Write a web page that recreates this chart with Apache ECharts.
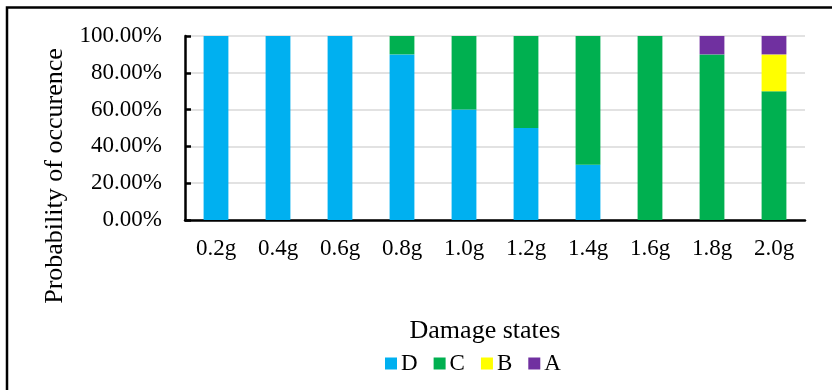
<!DOCTYPE html>
<html>
<head>
<meta charset="utf-8">
<script src="https://cdn.jsdelivr.net/npm/echarts@6/dist/echarts.min.js"></script>
<style>
  html, body { margin: 0; padding: 0; background: #fff; }
  #chart { width: 832px; height: 390px; }
</style>
</head>
<body>
<div id="chart"></div>
<script>
// Peak ground acceleration levels
const categories = ['0.2g', '0.4g', '0.6g', '0.8g', '1.0g', '1.2g', '1.4g', '1.6g', '1.8g', '2.0g'];
// Probability of each damage state (fraction of 1)
const stateD = [1.0, 1.0, 1.0, 0.9, 0.6, 0.5, 0.3, 0.0, 0.0, 0.0];
const stateC = [0.0, 0.0, 0.0, 0.1, 0.4, 0.5, 0.7, 1.0, 0.9, 0.7];
const stateB = [0.0, 0.0, 0.0, 0.0, 0.0, 0.0, 0.0, 0.0, 0.0, 0.2];
const stateA = [0.0, 0.0, 0.0, 0.0, 0.0, 0.0, 0.0, 0.0, 0.1, 0.1];
const seriesNames = ['D', 'C', 'B', 'A'];
const seriesColors = ['#00B0F0', '#00B050', '#FFFF00', '#7030A0'];

const FONT = "'Liberation Serif', 'Times New Roman', serif";
const chart = echarts.init(document.getElementById('chart'), null, { renderer: 'canvas' });

const dataSets = [stateD, stateC, stateB, stateA];
const series = dataSets.map((d, i) => ({
  name: seriesNames[i],
  type: 'bar',
  stack: 'total',
  barWidth: '40%',
  data: d,
  itemStyle: { color: seriesColors[i] }
}));

chart.setOption({
  animation: false,
  backgroundColor: '#fff',
  textStyle: { fontFamily: FONT, color: '#000' },
  grid: { left: 185, right: 27, top: 36, bottom: 170, containLabel: false },
  xAxis: {
    type: 'category',
    data: categories,
    axisLine: { lineStyle: { color: '#000', width: 2.5 } },
    axisTick: { show: false },
    axisLabel: { color: '#000', fontFamily: FONT, fontSize: 23, margin: 17 }
  },
  yAxis: {
    type: 'value',
    min: 0,
    max: 1,
    interval: 0.2,
    axisLine: { show: true, lineStyle: { color: '#000', width: 2.5 } },
    axisTick: { show: true, inside: true, length: 6, lineStyle: { color: '#000', width: 2.5 } },
    splitLine: { lineStyle: { color: '#D9D9D9', width: 1.5 } },
    axisLabel: {
      color: '#000', fontFamily: FONT, fontSize: 23, margin: 23,
      formatter: v => (v * 100).toFixed(2) + '%'
    }
  },
  legend: {
    data: seriesNames,
    left: 385,
    top: 352,
    padding: 0,
    icon: 'rect',
    itemWidth: 12,
    itemHeight: 12,
    itemGap: 16,
    textStyle: { color: '#000', fontFamily: FONT, fontSize: 23, padding: [0, 0, 0, -1] }
  },
  graphic: [
    {
      type: 'text',
      x: 55, y: 176,
      rotation: Math.PI / 2,
      style: {
        text: 'Probability of occurence',
        fontFamily: FONT, fontSize: 26, fill: '#000',
        align: 'center', verticalAlign: 'middle'
      }
    },
    {
      type: 'text',
      x: 485, y: 331,
      style: {
        text: 'Damage states',
        fontFamily: FONT, fontSize: 26, fill: '#000',
        align: 'center', verticalAlign: 'middle'
      }
    },
    {
      type: 'polyline',
      shape: { points: [[7, 392], [7, 7.5], [834, 7.5]] },
      style: { stroke: '#000', lineWidth: 2.5, fill: null }
    }
  ],
  series: series
});
</script>
</body>
</html>
